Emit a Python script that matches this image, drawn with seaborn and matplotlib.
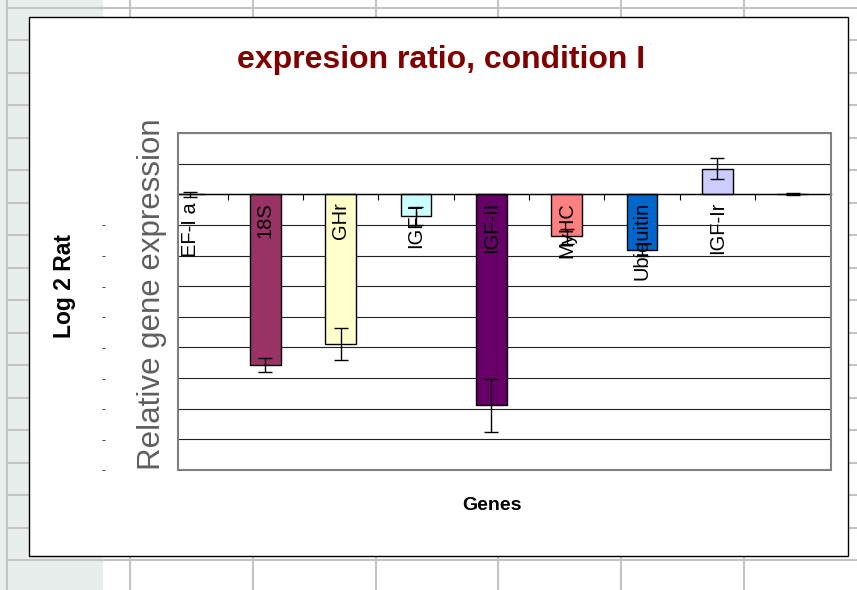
import numpy as np
import matplotlib
matplotlib.use("Agg")
import matplotlib.pyplot as plt
from matplotlib.patches import Rectangle
import seaborn as sns

# data (log2 ratio, one gridline = 1 unit)
genes = ["EF-I a", "18S", "GHr", "IGF-I", "IGF-II", "MyHC", "Ubiquitin", "IGF-Ir", ""]
ratio = [0.0, -5.58, -4.89, -0.70, -6.89, -1.37, -1.82, 0.83, 0.0]
err = [0.08, 0.22, 0.53, 0.30, 0.86, 0.25, 0.20, 0.34, 0.03]
bar_colors = ["#9999FF", "#993366", "#FFFFCC", "#CCFFFF", "#660066",
              "#FF8080", "#0066CC", "#CCCCFF", "#000080"]
yticks = list(range(-9, 3))
ytick_labels = ["-" if t < 0 else "" for t in yticks]

# spreadsheet behind the chart (pixel layout)
sheet_cols = [7, 130, 253, 376, 498, 621, 744]
sheet_rows = [7.5 + 32.5 * k for k in range(18)]

sns.set_style("white")
plt.rcParams["font.family"] = ["Liberation Sans", "DejaVu Sans"]

W, H = 857, 590
fig = plt.figure(figsize=(W / 100, H / 100), dpi=100)

# background sheet
bg = fig.add_axes([0, 0, 1, 1], zorder=-1)
bg.set_xlim(0, W)
bg.set_ylim(H, 0)
bg.axis("off")
bg.axvspan(0, 103, color="#e8eeec", lw=0, zorder=0)
bg.vlines(sheet_cols, 0, H, color="#c4c4c4", lw=1.5, zorder=1)
bg.hlines(sheet_rows, 7, W, color="#c4c4c4", lw=1.5, zorder=1)
bg.add_patch(Rectangle((29, 17), 819, 539, facecolor="white", edgecolor="black",
                       lw=1, zorder=3))

# plot area
ax = fig.add_axes([178 / W, 1 - 470 / H, (831 - 178) / W, (470 - 133) / H], zorder=0)
palette = dict(zip(genes, bar_colors))
sns.barplot(x=genes, y=ratio, hue=genes, palette=palette, legend=False,
            dodge=False, width=0.41, edgecolor="black", linewidth=1,
            saturation=1, ax=ax, zorder=2)
ax.errorbar(range(len(genes)), ratio, yerr=err, fmt="none", ecolor="black",
            elinewidth=1, capsize=5, capthick=1, zorder=3)

ax.set_xlim(-0.16, 8.51)
ax.set_ylim(-9, 2)
ax.set_yticks(yticks)
ax.set_yticklabels(ytick_labels, fontsize=9)
ax.tick_params(axis="y", length=0, pad=52)
ax.yaxis.grid(True, color="#222222", lw=0.8)
ax.set_axisbelow(True)

ax.set_xticks([i + 0.5 for i in range(len(genes))])
ax.set_xticklabels([])
ax.tick_params(axis="x", direction="out", length=4, width=0.8, color="black", bottom=True)
for s in ["left", "top", "right"]:
    ax.spines[s].set_visible(False)
ax.spines["bottom"].set_position(("data", 0))
ax.spines["bottom"].set_color("black")
ax.spines["bottom"].set_linewidth(1)
ax.add_patch(Rectangle((0, 0), 1, 1, transform=ax.transAxes, fill=False,
                       edgecolor="#808080", lw=1.5, clip_on=False, zorder=4))
ax.set_xlabel("")
ax.set_ylabel("")

for i, g in enumerate(genes):
    ax.text(i, -0.25, g, rotation=90, ha="center", va="top", fontsize=14.5,
            color="black", zorder=5)

fig.text(441 / W, 1 - 60 / H, "expresion ratio, condition I", ha="center", va="center",
         fontsize=23, fontweight="bold", color="#800000")
fig.text(492 / W, 1 - 505 / H, "Genes", ha="center", va="center",
         fontsize=14, fontweight="bold", color="black")
fig.text(65 / W, 1 - 286 / H, "Log 2 Rat", ha="center", va="center", rotation=90,
         fontsize=16.5, fontweight="bold", color="black")
fig.text(152 / W, 1 - 294 / H, "Relative gene expression", ha="center", va="center",
         rotation=90, fontsize=22.5, color="#5f5f5f")

fig.savefig("out.png", dpi=100)
